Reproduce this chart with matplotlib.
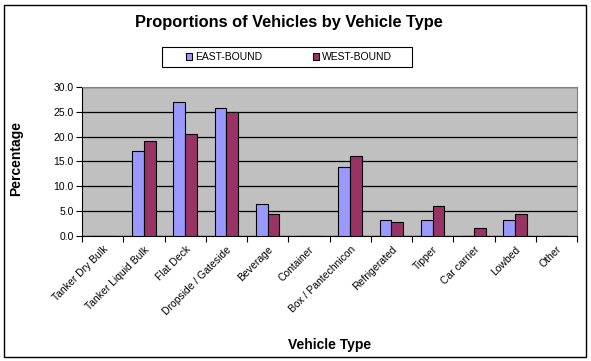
import matplotlib
matplotlib.use("Agg")
import matplotlib.pyplot as plt
import numpy as np
from matplotlib.patches import Rectangle

categories = ["Tanker Dry Bulk", "Tanker Liquid Bulk", "Flat Deck", "Dropside / Gateside",
              "Beverage", "Container", "Box / Pantechnicon", "Refrigerated", "Tipper",
              "Car carrier", "Lowbed", "Other"]
east = [0.0, 17.1, 27.0, 25.8, 6.4, 0.0, 13.9, 3.2, 3.2, 0.0, 3.2, 0.0]
west = [0.0, 19.2, 20.6, 24.9, 4.4, 0.0, 16.1, 2.8, 6.1, 1.6, 4.4, 0.0]
yticks = [0, 5, 10, 15, 20, 25, 30]

plt.rcParams['font.family'] = ['Liberation Sans', 'DejaVu Sans']

fig = plt.figure(figsize=(5.91, 3.61), dpi=100)
fig.patch.set_facecolor('white')
ax = fig.add_axes([82/591, 1-236/361, (577-82)/591, (236-87)/361])
ax.set_facecolor('#C0C0C0')

x = np.arange(len(categories))
w = 1/3.5
b1 = ax.bar(x - w/2, east, w, color='#9999FF', edgecolor='black', linewidth=0.8, label='EAST-BOUND', zorder=3)
b2 = ax.bar(x + w/2, west, w, color='#993366', edgecolor='black', linewidth=0.8, label='WEST-BOUND', zorder=3)

ax.set_xlim(-0.5, len(categories) - 0.5)
ax.set_ylim(0, 30)
ax.set_yticks(yticks)
ax.set_yticklabels([f"{v:.1f}" for v in yticks], fontsize=7.5)
ax.yaxis.grid(True, color='black', linewidth=0.9, zorder=1)
ax.set_axisbelow(True)

ax.set_xticks(np.arange(-0.5, len(categories), 1.0))
ax.set_xticklabels([])
ax.set_xticks(x, minor=True)
ax.set_xticklabels(categories, minor=True, rotation=45, ha='right', rotation_mode='anchor', fontsize=7.5)
ax.tick_params(axis='x', which='minor', length=0, pad=6)
ax.tick_params(axis='x', which='major', length=4, width=0.8, direction='out')
ax.tick_params(axis='y', length=4, width=0.8, direction='out', pad=2)

for side in ['top', 'right']:
    ax.spines[side].set_color('#808080')
    ax.spines[side].set_linewidth(0.8)
ax.spines['left'].set_linewidth(0.8)
ax.spines['bottom'].set_linewidth(0.8)

fig.text(289/591, 1-23/361, "Proportions of Vehicles by Vehicle Type", ha='center', va='center',
         fontsize=11.8, fontweight='bold')
fig.text(16/591, 1-158/361, "Percentage", ha='center', va='center', rotation=90,
         fontsize=10, fontweight='bold')
fig.text(330/591, 1-345/361, "Vehicle Type", ha='center', va='center',
         fontsize=10, fontweight='bold')

leg = fig.legend(handles=[b1, b2], loc='center', bbox_to_anchor=(289/591, 1-57/361), ncol=2,
                 fontsize=7.5, frameon=False,
                 handlelength=0.6, handleheight=0.6, handletextpad=0.3, columnspacing=4.8,
                 borderpad=0.3, borderaxespad=0)

fig.patches.append(Rectangle((162/591, 1-67/361), 250/591, 20/361, transform=fig.transFigure,
                             fill=False, edgecolor='black', linewidth=0.8))
fig.patches.append(Rectangle((4/591, 4/361), 582/591, 352/361, transform=fig.transFigure,
                             fill=False, edgecolor='black', linewidth=1))

fig.savefig("out.png", dpi=100)
